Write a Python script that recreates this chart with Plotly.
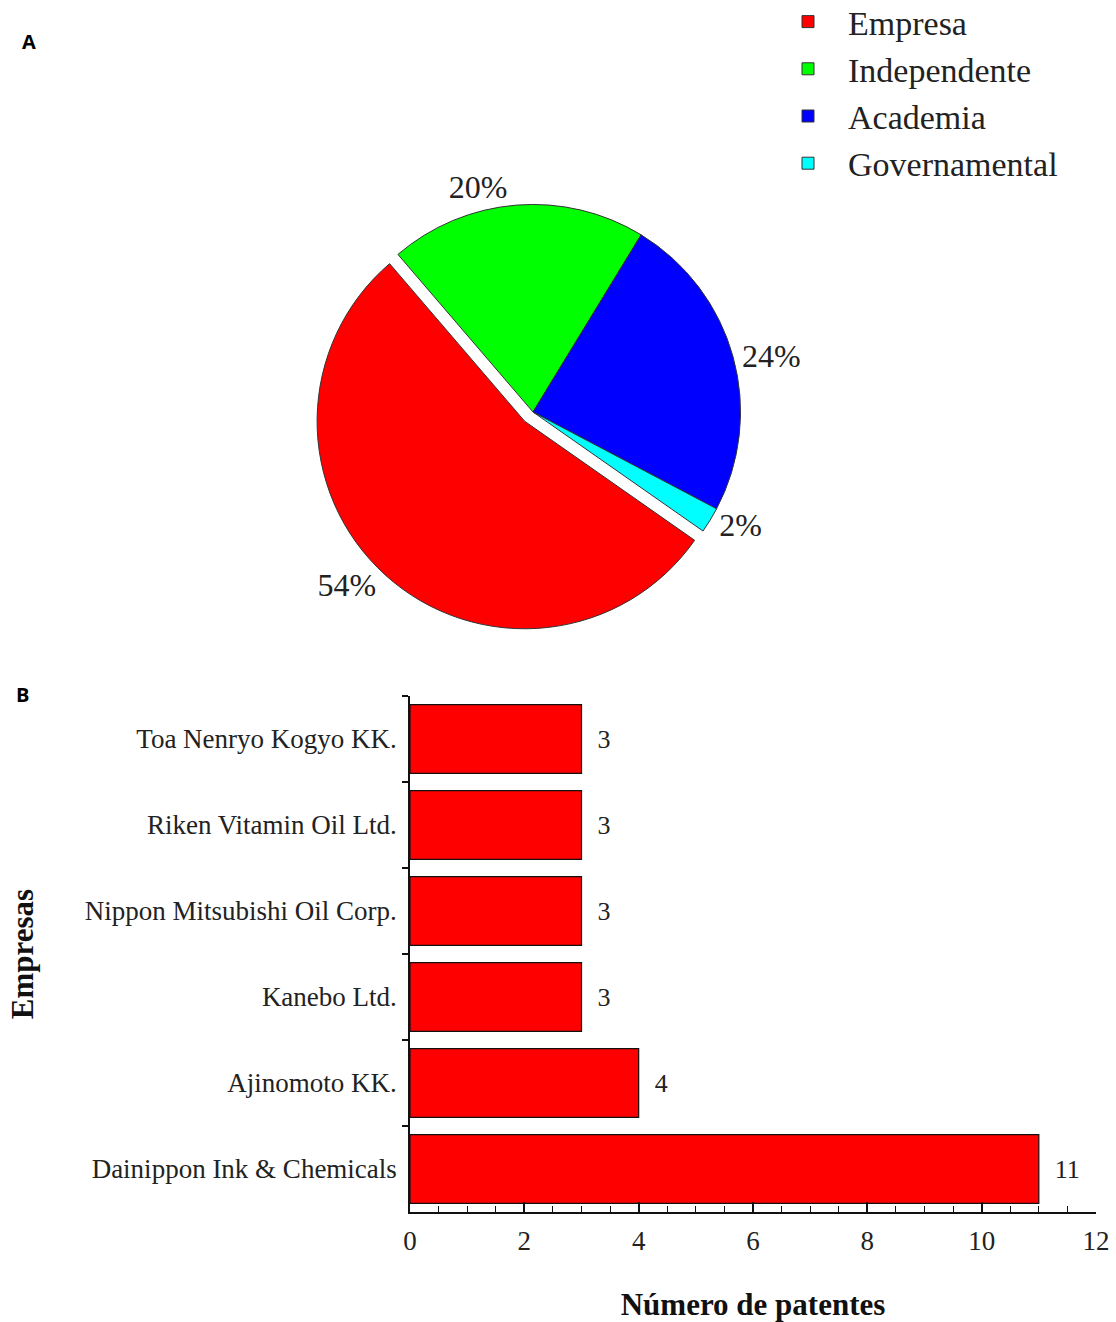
import plotly.graph_objects as go

# Panel A data
pie_labels = ["Empresa", "Independente", "Academia", "Governamental"]
pie_values = [54, 20, 24, 2]
pie_colors = ["#ff0000", "#00ff00", "#0000ff", "#00ffff"]

# Panel B data
companies = ["Dainippon Ink & Chemicals", "Ajinomoto KK.", "Kanebo Ltd.",
             "Nippon Mitsubishi Oil Corp.", "Riken Vitamin Oil Ltd.", "Toa Nenryo Kogyo KK."]
patents = [11, 4, 3, 3, 3, 3]

W, H = 1116, 1322
SERIF = "Liberation Serif, Times New Roman, serif"

fig = go.Figure()

fig.add_trace(go.Pie(
    labels=pie_labels, values=pie_values, sort=False, direction="clockwise",
    rotation=125, pull=[0.06, 0, 0, 0],
    marker=dict(colors=pie_colors, line=dict(color="#333333", width=1)),
    textinfo="percent", textposition="outside", texttemplate="%{value}%",
    textfont=dict(family=SERIF, size=32, color="#222222"),
    domain=dict(x=[306 / W, 760 / W], y=[1 - 632 / H, 1 - 192 / H]),
    hoverinfo="label+percent",
))

fig.add_trace(go.Bar(
    x=patents, y=companies, orientation="h",
    marker=dict(color="#ff0000", line=dict(color="#111111", width=1.2)),
    text=["\u2002" + str(v) for v in patents], textposition="outside",
    textfont=dict(family=SERIF, size=26, color="#222222"),
    cliponaxis=False, showlegend=False,
    xaxis="x", yaxis="y",
))

fig.update_layout(
    width=W, height=H,
    margin=dict(l=0, r=0, t=0, b=0, autoexpand=False),
    paper_bgcolor="white", plot_bgcolor="white",
    bargap=0.2,
    font=dict(family=SERIF, color="#222222"),
    legend=dict(
        x=768 / W, y=1 + 7 / H, xanchor="left", yanchor="top",
        font=dict(family=SERIF, size=34, color="#222222"),
        itemwidth=70, tracegroupgap=0, bgcolor="rgba(0,0,0,0)",
    ),
    xaxis=dict(
        domain=[410 / W, 1096 / W], range=[0, 12], anchor="y",
        dtick=2, ticks="inside", ticklen=10, tickwidth=1.5, tickcolor="#111111",
        minor=dict(dtick=0.5, ticks="inside", ticklen=6, tickwidth=1.2, tickcolor="#111111"),
        showline=True, linecolor="#111111", linewidth=1.5,
        showgrid=False, zeroline=False, ticklabelstandoff=4, automargin=False,
        tickfont=dict(family=SERIF, size=27, color="#222222"),
        title=dict(text="<b>Número de patentes</b>", standoff=40,
                   font=dict(family=SERIF, size=31, color="#111111")),
    ),
    yaxis=dict(
        domain=[1 - 1212 / H, 1 - 696 / H], anchor="x",
        tickson="boundaries", ticks="outside", ticklen=6, tickwidth=1.5, tickcolor="#111111",
        showline=True, linecolor="#111111", linewidth=1.5,
        showgrid=False, zeroline=False, ticklabelstandoff=6, automargin=False,
        tickfont=dict(family=SERIF, size=27, color="#222222"),
        title=dict(text="<b>Empresas</b>", standoff=42,
                   font=dict(family=SERIF, size=31, color="#111111")),
    ),
    annotations=[
        dict(text="<b>A</b>", x=20 / W, y=1 - 42 / H, xref="paper", yref="paper",
             xanchor="left", yanchor="middle", showarrow=False,
             font=dict(family="Open Sans, Arial, sans-serif", size=20, color="#000000")),
        dict(text="<b>B</b>", x=14 / W, y=1 - 694 / H, xref="paper", yref="paper",
             xanchor="left", yanchor="middle", showarrow=False,
             font=dict(family="Open Sans, Arial, sans-serif", size=20, color="#000000")),
    ],
)

fig.write_html("out.html")
